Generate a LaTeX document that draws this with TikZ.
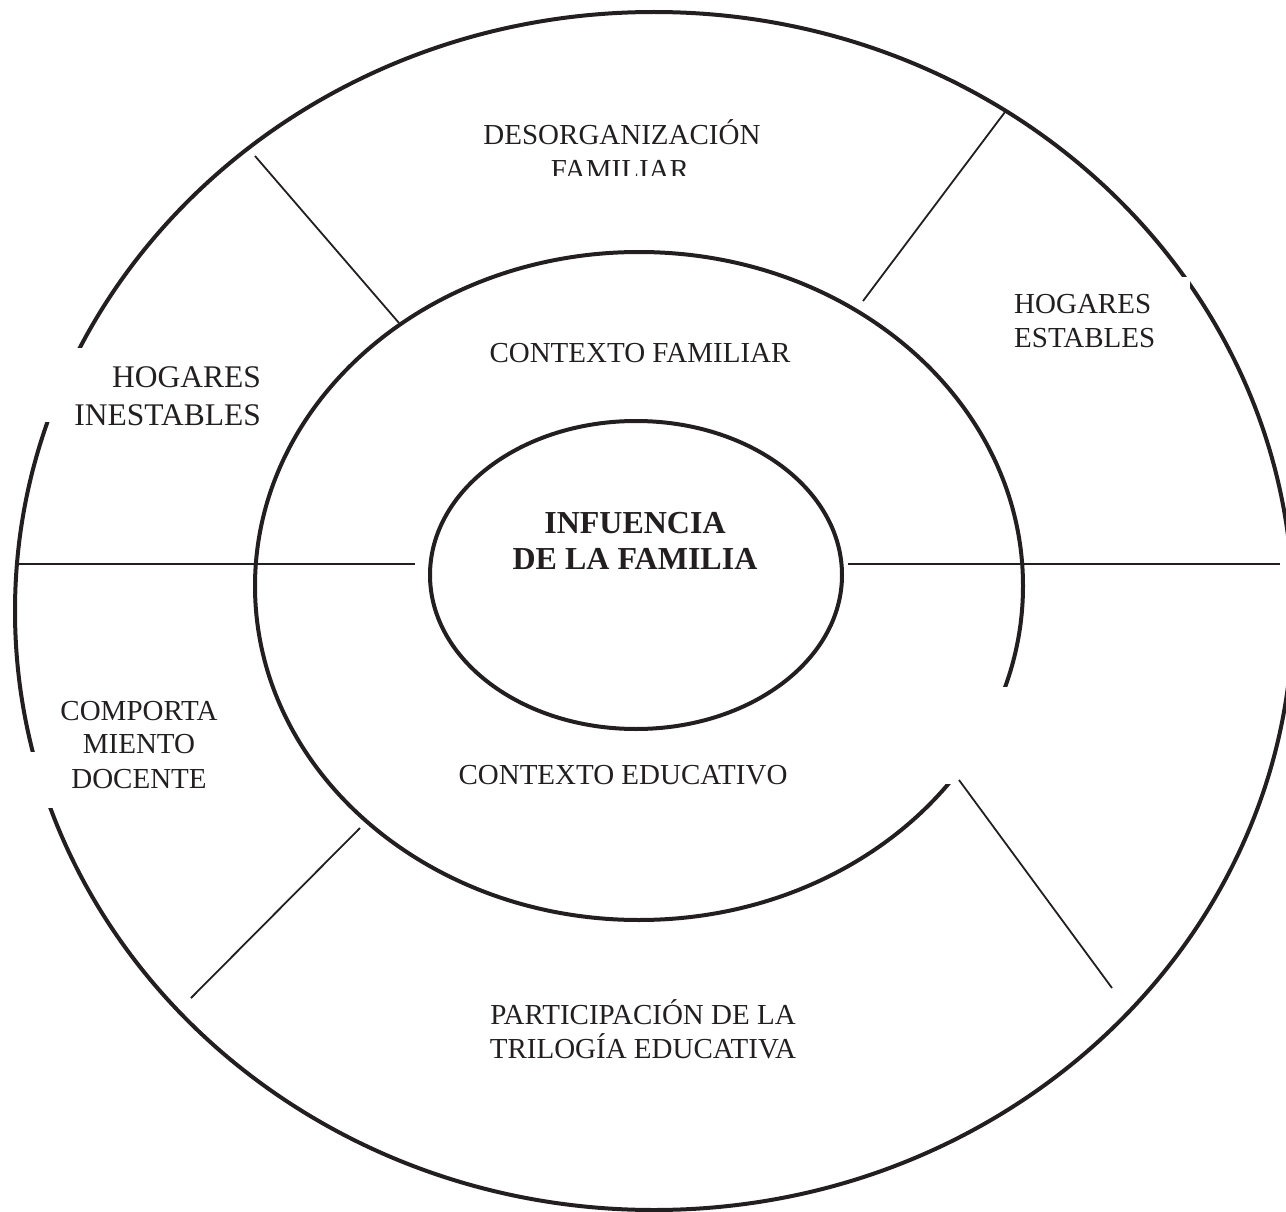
\documentclass[tikz,border=0pt]{standalone}
\usepackage{fontspec}
\setmainfont{Liberation Serif}
\definecolor{ink}{HTML}{231F20}
\begin{document}
\begin{tikzpicture}[x=1pt,y=-1pt,
  ring/.style={draw=ink,line width=4pt},
  divider/.style={draw=ink,line width=1.8pt},
  gapbox/.style={fill=white,draw=none},
  lbl/.style={text=ink,inner sep=0pt,font=\fontsize{29}{34}\selectfont},
  biglbl/.style={text=ink,inner sep=0pt,font=\fontsize{31.5}{38}\selectfont},
  boldlbl/.style={text=ink,inner sep=0pt,font=\bfseries\fontsize{32}{36}\selectfont}]
\useasboundingbox (0,0) rectangle (1286,1212);
\clip (0,0) rectangle (1286,1212);
% rings
\draw[ring] (654,611) ellipse [x radius=639, y radius=599];
\draw[ring] (639,586) ellipse [x radius=384, y radius=334];
\draw[ring] (636,575) ellipse [x radius=206, y radius=154];
% white text boxes that interrupt the rings
\fill[gapbox] (25,348) rectangle (280,422);
\fill[gapbox] (20,752) rectangle (250,808);
\fill[gapbox] (1000,277) rectangle (1190,360);
\fill[gapbox] (935,687) rectangle (1030,784);
% divider end points
\coordinate (hl1) at (15,564);   \coordinate (hl2) at (415,564);
\coordinate (hr1) at (848,564);  \coordinate (hr2) at (1280,564);
\coordinate (ul1) at (255,156);  \coordinate (ul2) at (399,323);
\coordinate (ur1) at (1005,112); \coordinate (ur2) at (863,301);
\coordinate (ll1) at (360,828);  \coordinate (ll2) at (191,998);
\coordinate (lr1) at (959,780);  \coordinate (lr2) at (1112,988);
\draw[divider] (hl1) -- (hl2);
\draw[divider] (hr1) -- (hr2);
\draw[divider] (ul1) -- (ul2);
\draw[divider] (ur1) -- (ur2);
\draw[divider] (ll1) -- (ll2);
\draw[divider] (lr1) -- (lr2);
% labels
\node[lbl,anchor=base] (desorg1) at (622,145) {DESORGANIZACIÓN};
\begin{scope}
  \clip (400,150) rectangle (850,176);
  \node[lbl,anchor=base] (desorg2) at (620,179) {FAMILIAR};
\end{scope}
\node[lbl,anchor=base] (ctxfam) at (640,362) {CONTEXTO FAMILIAR};
\node[boldlbl,anchor=base] (inf1) at (635,533) {INFUENCIA};
\node[boldlbl,anchor=base] (inf2) at (635,569) {DE LA FAMILIA};
\node[biglbl,anchor=base east] (hi1) at (261,387) {HOGARES};
\node[biglbl,anchor=base east] (hi2) at (261,425) {INESTABLES};
\node[lbl,anchor=base west] (he1) at (1014,313) {HOGARES};
\node[lbl,anchor=base west] (he2) at (1014,347) {ESTABLES};
\node[lbl,anchor=base] (cd1) at (139,720) {COMPORTA};
\node[lbl,anchor=base] (cd2) at (139,753) {MIENTO};
\node[lbl,anchor=base] (cd3) at (139,788) {DOCENTE};
\node[lbl,anchor=base] (ctxedu) at (623,784) {CONTEXTO EDUCATIVO};
\node[lbl,anchor=base] (part1) at (643,1024) {PARTICIPACIÓN DE LA};
\node[lbl,anchor=base] (part2) at (643,1058) {TRILOGÍA EDUCATIVA};
\end{tikzpicture}
\end{document}
